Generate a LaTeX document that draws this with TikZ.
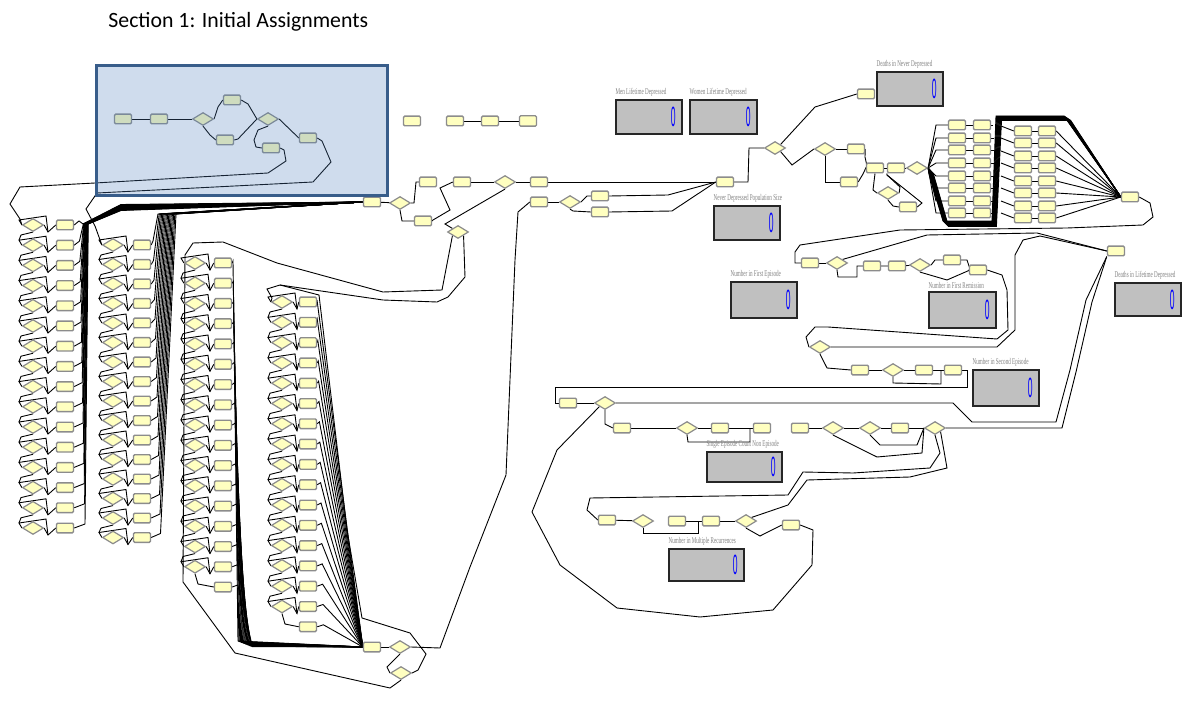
\documentclass[tikz,border=0pt]{standalone}
\usepackage{fontspec}
\setmainfont{Liberation Serif}
\newfontfamily\titlefont{Carlito}
\newfontfamily\digitfont{Liberation Sans}
\usetikzlibrary{shapes.geometric}
\pgfdeclarelayer{back}
\pgfdeclarelayer{bg}
\pgfdeclarelayer{fg}
\pgfsetlayers{back,bg,main,fg}
\definecolor{modfill}{RGB}{255,255,192}
\definecolor{modedge}{RGB}{140,140,140}
\definecolor{statfill}{RGB}{192,192,192}
\definecolor{overlay}{RGB}{79,129,189}
\definecolor{overedge}{RGB}{56,93,138}
\definecolor{lblgray}{RGB}{130,130,130}
\tikzset{
  mod/.style={draw=modedge, fill=modfill, line width=0.7pt, minimum width=8.5pt,
    minimum height=4.8pt, inner sep=0pt, rounded corners=0.6pt},
  dec/.style={diamond, draw=modedge, fill=modfill, line width=0.6pt,
    minimum width=10.5pt, minimum height=6.5pt, inner sep=0pt},
  wire/.style={line width=0.45pt, black},
  stat/.style={draw=black!85, fill=statfill, line width=0.8pt, inner sep=0pt},
  statlbl/.style={font=\fontsize{4.4}{5}\selectfont, text=lblgray, inner sep=0pt, anchor=south west},
  cnt/.style={text=blue, font=\digitfont\fontsize{4.5}{5}\selectfont, inner sep=0pt}
}
% counter panel: name, x, y, width, height, caption
\newcommand\statpanel[6]{%
  \node[stat, minimum width=#4, minimum height=#5] (#1) at (#2,#3) {};
  \node[cnt, anchor=east] (#1v) at ([xshift=-3.4pt]#1.east) {\scalebox{0.95}[3.1]{0}};
  \node[statlbl] (#1t) at ([yshift=1.2pt]#1.north west) {\scalebox{0.58}[1]{#6}};
}
\begin{document}
\begin{tikzpicture}[x=0.5pt,y=-0.5pt]
\useasboundingbox (0,0) rectangle (1189,711);
\begin{pgfonlayer}{back}
  \fill[white] (0,0) rectangle (1189,711);
\end{pgfonlayer}

\node[font=\titlefont\fontsize{10.9}{13}\selectfont, anchor=base west, inner sep=0pt]
  (title) at (108,28) {Section 1: Initial Assignments};

% ---------- initial assignment block ----------
\node[mod] (cr) at (123,119) {};
\node[mod] (a1) at (159,119) {};
\node[dec] (ia) at (203,119) {};
\node[mod] (a2) at (232,100) {};
\node[mod] (a3) at (225,140) {};
\node[dec] (ib) at (268,119) {};
\node[mod] (a4) at (271,148) {};
\node[mod] (a5) at (308,138) {};

% ---------- four columns of attribute checks ----------
\foreach \i in {0,...,15}{
  \pgfmathsetmacro\yy{225+20.2*\i}
  \node[dec] (c1d\i) at (33,\yy) {};
  \node[mod] (c1b\i) at (65,\yy) {};
  \pgfmathsetmacro\yy{245+19.5*\i}
  \node[dec] (c2d\i) at (113,\yy) {};
  \node[mod] (c2b\i) at (142,\yy) {};
}
\foreach \i in {0,...,16}{
  \pgfmathsetmacro\yy{263+20.25*\i}
  \ifnum\i<16 \node[dec] (c3d\i) at (195,\yy) {}; \fi
  \node[mod] (c3b\i) at (223,\yy) {};
  \pgfmathsetmacro\yy{302+20.3*\i}
  \ifnum\i<16 \node[dec] (c4d\i) at (282,\yy) {}; \fi
  \node[mod] (c4b\i) at (308,\yy) {};
}

% ---------- collectors and routing ----------
\node[mod] (n0) at (372,202) {};
\node[dec] (d3) at (400,203) {};
\node[mod] (m3) at (428,182) {};
\node[mod] (m4) at (423,221) {};
\node[mod] (m5) at (462,182) {};
\node[dec] (d4) at (505,182) {};
\node[mod] (m6) at (539,182) {};
\node[dec] (dm) at (458,232) {};
\node[mod] (m7) at (539,202) {};
\node[dec] (d5) at (570,202) {};
\node[mod] (m8) at (600,196) {};
\node[mod] (m9) at (600,212) {};
\node[mod] (n2) at (725,182) {};
\node[mod] (n1) at (372,647) {};
\node[dec] (q1) at (400,647) {};
\node[dec] (q2) at (401,673) {};

\node[mod] (t1) at (412,121) {};
\node[mod] (t2) at (455,121) {};
\node[mod] (t3) at (490,121) {};
\node[mod, minimum height=5.2pt] (t4) at (528,121) {};

% ---------- upper right ----------
\node[dec] (d6) at (775,148) {};
\node[mod] (m10) at (866,94) {};
\node[dec] (d7) at (825,149) {};
\node[mod] (m11) at (856,149) {};
\node[mod] (m12) at (849,182) {};
\node[mod] (m13) at (875,168) {};
\node[mod] (m14) at (896,168) {};
\node[dec] (d8) at (917,168) {};
\node[dec] (d9) at (888,193) {};
\node[mod] (m15) at (908,207) {};
\foreach \k/\y in {0/125,1/138,2/150,3/163,4/176,5/188,6/201,7/213}{
  \node[mod] (g1l\k) at (957,\y) {};
  \node[mod] (g1r\k) at (982,\y) {};
}
\foreach \k/\y in {0/131,1/143,2/156,3/168,4/181,5/193,6/206,7/218}{
  \node[mod] (g2l\k) at (1023,\y) {};
  \node[mod] (g2r\k) at (1047,\y) {};
}
\node[mod] (n3) at (1130,197) {};

% ---------- middle right ----------
\node[mod] (m20) at (810,263) {};
\node[dec] (d10) at (837,263) {};
\node[mod] (m21) at (872,266) {};
\node[mod] (m22) at (897,266) {};
\node[dec] (d11) at (920,265) {};
\node[mod] (m23) at (952,260) {};
\node[mod] (m24b) at (978,270) {};
\node[mod] (m24) at (1116,251) {};
\node[dec] (d12) at (820,347) {};
\node[mod] (m25) at (860,370) {};
\node[dec] (d13) at (893,370) {};
\node[mod] (m26) at (924,370) {};
\node[mod] (m27) at (953,370) {};

% ---------- lower right ----------
\node[mod] (m28) at (568,403) {};
\node[dec] (d14) at (605,403) {};
\node[mod] (m29) at (622,428) {};
\node[dec] (d15) at (687,428) {};
\node[mod] (m30) at (720,428) {};
\node[mod] (m31) at (762,428) {};
\node[mod] (m32) at (800,428) {};
\node[dec] (d16) at (833,428) {};
\node[dec] (d17) at (870,428) {};
\node[mod] (m33) at (900,428) {};
\node[dec] (d18) at (935,428) {};
\node[mod] (m34) at (607,520) {};
\node[dec] (d20) at (643,521) {};
\node[mod] (m35) at (677,521) {};
\node[mod] (m36) at (711,521) {};
\node[dec] (d19) at (746,521) {};
\node[mod] (m37) at (791,525) {};

% ---------- counters ----------
\statpanel{s1}{649}{117}{33pt}{17pt}{Men Lifetime Depressed}
\statpanel{s2}{723.5}{117}{33.5pt}{17pt}{Women Lifetime Depressed}
\statpanel{s3}{747}{223}{33pt}{17pt}{Never Depressed Population Size}
\statpanel{s4}{910}{89}{33pt}{17pt}{Deaths in Never Depressed}
\statpanel{s5}{764}{300}{33pt}{18pt}{Number in First Episode}
\statpanel{s6}{962.5}{310}{33.5pt}{18pt}{Number in First Remission}
\statpanel{s7}{1148}{299.5}{33pt}{16.5pt}{Deaths in Lifetime Depressed}
\statpanel{s8}{1006}{388}{33pt}{18pt}{Number in Second Episode}
\statpanel{s9}{744.5}{467}{37.5pt}{15pt}{Single Episode Count Non Episode}
\statpanel{s10}{706.5}{565}{37.5pt}{16pt}{Number in Multiple Recurrences}

% ================= connectors =================
\begin{pgfonlayer}{bg}
  % initial block
  \draw[wire] (cr) -- (a1) -- (ia);
  \draw[wire] (ia.east) -- (218,107) -- (a2.west);
  \draw[wire] (ia.south) -- (210,135) -- (a3.west);
  \draw[wire] (a2.east) -- (248,104) -- (ib.west);
  \draw[wire] (a3.east) -- (238,139) -- (ib.west);
  \draw[wire] (ib.south) -- (258,130) -- (254,140) -- (256,147) -- (a4.west);
  \draw[wire] (ib.east) -- (a5.west);
  \draw[wire] (a4.east) -- (284,150) -- (286,161) -- (268,173) -- (95,183) -- (20,187)
    -- (10,204) -- (20,219) -- (c1d0.west);
  \draw[wire] (a5.east) -- (322,141) -- (331,162) -- (313,182) -- (97,193) -- (86,209)
    -- (95,226) -- (c2d0.west);

  % column 1
  \foreach \i in {0,...,15}{
    \pgfmathsetmacro\yy{225+20.2*\i}
    \draw[wire] (c1d\i.east) -- (48,\yy+7) -- (c1b\i.west);
    \draw[wire] (c1d\i.west) -- (19,\yy-5) -- (46,\yy-9) -- (48,\yy+7);
    \ifnum\i<15 \draw[wire] (c1d\i.south) -- (21,\yy+10) -- (19,\yy+15.2); \fi
    \draw[wire] (c1b\i.east) -- ({79+0.4*\i},\yy-4) -- ({83+0.35*\i},224)
      -- (121,{204.5+0.4*\i}) -- (n0.west);
  }
  % column 2
  \foreach \i in {0,...,15}{
    \pgfmathsetmacro\yy{245+19.5*\i}
    \draw[wire] (c2d\i.east) -- (128,\yy+7) -- (c2b\i.west);
    \draw[wire] (c2d\i.west) -- (99,\yy-5) -- (126,\yy-9) -- (128,\yy+7);
    \ifnum\i<15 \draw[wire] (c2d\i.south) -- (101,\yy+10) -- (99,\yy+14.5); \fi
    \draw[wire] (c2b\i.east) -- ({153+0.5*\i},\yy-4) -- ({158+1.2*\i},214) -- (n0.west);
  }
  % column 3
  \foreach \i in {0,...,16}{
    \pgfmathsetmacro\yy{263+20.25*\i}
    \ifnum\i<16
      \draw[wire] (c3d\i.east) -- (210,\yy+7) -- (c3b\i.west);
      \draw[wire] (c3d\i.west) -- (181,\yy-5) -- (208,\yy-9) -- (210,\yy+7);
      \ifnum\i<15 \draw[wire] (c3d\i.south) -- (183,\yy+10) -- (181,\yy+15.25); \fi
    \fi
    \draw[wire] (c3b\i.east) -- ({233+0.3*\i},\yy-2) -- ({238+0.9*\i},{641+0.35*\i}) -- (n1.west);
  }
  \draw[wire] (c3d15.south) -- (198,584) -- (c3b16.west);
  % column 4
  \foreach \i in {0,...,16}{
    \pgfmathsetmacro\yy{302+20.3*\i}
    \ifnum\i<16
      \draw[wire] (c4d\i.east) -- (297,\yy+7) -- (c4b\i.west);
      \draw[wire] (c4d\i.west) -- (268,\yy-5) -- (295,\yy-9) -- (297,\yy+7);
      \ifnum\i<15 \draw[wire] (c4d\i.south) -- (270,\yy+10) -- (268,\yy+15.3); \fi
    \fi
    \draw[wire] (c4b\i.east) -- ({317+0.4*\i},\yy-2) -- (n1.west);
  }
  \draw[wire] (c4d15.south) -- (285,624) -- (c4b16.west);

  % loops round the columns
  \draw[wire] (dm.south west) -- (442,290) -- (383,292) -- (277,263) -- (223,242) -- (193,243)
    -- (185,255) -- (183,582) -- (235,653) -- (390,688) -- (q2.south);
  \draw[wire] (dm.south east) -- (465,277) -- (448,297) -- (437,302) -- (383,300) -- (280,285)
    -- (267,289) -- (272,298) -- (c4d0.west);
  \draw[wire] (q2.east) -- (418,670) -- (426,654) -- (410,633) -- (362,618) -- (347,530)
    -- (319,295) -- (280,285);
  \draw[wire] (n1) -- (q1);
  \draw[wire] (q1.south) -- (387,667) -- (q2.west);
  \draw[wire] (q1.east) -- (440,648) -- (470,567) -- (506,475) -- (515,260) -- (518,212) -- (m7.west);

  % top routing
  \draw[wire] (n0) -- (d3);
  \draw[wire] (d3.east) -- (414,203) -- (416,182) -- (m3.west);
  \draw[wire] (d3.south) -- (402,221) -- (m4.west);
  \draw[wire] (m4.east) -- (433,220) -- (450,210) -- (440,188) -- (m5.west);
  \draw[wire] (m5) -- (d4) -- (m6) -- (n2);
  \draw[wire] (d4.south) -- (445,224) -- (dm.north west);
  \draw[wire] (m7) -- (d5);
  \draw[wire] (d5.east) -- (587,196) -- (m8.west);
  \draw[wire] (d5.south) -- (573,211) -- (m9.west);
  \draw[wire] (m8.east) -- (668,195) -- (n2.west);
  \draw[wire] (m9.east) -- (672,211) -- (n2.west);
  \draw[wire] (t2) -- (t3) -- (t4);

  % upper right
  \draw[wire] (n2.east) -- (748,182) -- (749,148) -- (d6.west);
  \draw[wire] (d6.north east) -- (815,107) -- (m10.west);
  \draw[wire] (d6.south east) -- (792,165) -- (d7.west);
  \draw[wire] (d7) -- (m11);
  \draw[wire] (d7.south) -- (825,182) -- (m12.west);
  \draw[wire] (m11.east) -- (865,157) -- (867,166) -- (m13.west);
  \draw[wire] (m12.east) -- (863,174) -- (m13.west);
  \draw[wire] (m13) -- (m14) -- (d8);
  \draw[wire] (m13.south) -- (873,190) -- (d9.west);
  \draw[wire] (d9.east) -- (900,187) -- (887,175) -- (m14.south west);
  \draw[wire] (d9.south) -- (893,206) -- (m15.west);
  \draw[wire] (m15.east) -- (922,203) -- (887,175);
  \foreach \k/\y in {0/125,1/138,2/150,3/163,4/176,5/188,6/201,7/213}{
    \draw[wire] (d8.east) -- (936,\y) -- (g1l\k.west);
    \draw[wire] (g1l\k) -- (g1r\k);
    \draw[wire] (g1r\k.east) -- ({993+0.5*\k},\y);
  }
  \foreach \j in {0,...,11}{
    \draw[wire] (d8.east) -- ({929+0.4*\j},174) -- ({943+0.5*\j},{221+0.5*\j})
      -- ({992+0.4*\j},{221+0.5*\j}) -- ({996+0.5*\j},{116+0.4*\j})
      -- ({1064+0.6*\j},{116+0.4*\j}) -- (n3.west);
  }
  \foreach \k/\y in {0/131,1/143,2/156,3/168,4/181,5/193,6/206,7/218}{
    \draw[wire] (1001,\y-5) -- (g2l\k.west);
    \draw[wire] (g2l\k) -- (g2r\k);
    \draw[wire] (g2r\k.east) -- (n3.west);
  }
  \draw[wire] (n3.east) -- (1150,203) -- (1153,217) -- (1143,225) -- (1067,228) -- (900,230)
    -- (800,245) -- (795,252) -- (795,263) -- (m20.west);

  % middle right
  \draw[wire] (m20) -- (d10);
  \draw[wire] (d10.south) -- (838,277) -- (857,277) -- (857,266) -- (m21.west);
  \draw[wire] (d10.north east) -- (927,235) -- (1037,233) -- (m24.west);
  \draw[wire] (m21) -- (m22) -- (d11);
  \draw[wire] (d11.east) -- (935,260) -- (m23.west);
  \draw[wire] (m23.east) -- (967,260) -- (970,269) -- (m24b.west);
  \draw[wire] (d11.south) -- (947,280) -- (970,270);
  \draw[wire] (m24b.east) -- (1002,275) -- (1007,290) -- (1008,330) -- (997,339) -- (828,327)
    -- (815,327) -- (806,337) -- (d12.west);
  \draw[wire] (d12.east) -- (997,347) -- (1015,330) -- (1015,255) -- (1023,240) -- (1040,236)
    -- (m24.west);
  \draw[wire] (d12.south) -- (827,368) -- (m25.west);
  \draw[wire] (m25) -- (d13) -- (m26) -- (m27);
  \draw[wire] (d13.south) -- (893,383) -- (941,384) -- (941,370);
  \draw[wire] (m27.east) -- (967,370) -- (967,387) -- (555,387) -- (555,403) -- (m28.west);

  % lower right
  \draw[wire] (m28) -- (d14);
  \draw[wire] (d14.east) -- (953,403) -- (972,422) -- (1056,422) -- (1070,370) -- (1086,300)
    -- (m24.south west);
  \draw[wire] (d14.south) -- (605,424) -- (m29.west);
  \draw[wire] (m29) -- (d15) -- (m30) -- (m31);
  \draw[wire] (d15.south) -- (688,442) -- (750,442) -- (750,428);
  \draw[wire] (m32) -- (d16) -- (d17) -- (m33) -- (d18);
  \draw[wire] (d18.east) -- (1062,428) -- (1076,372) -- (1092,302) -- (m24.south west);
  \draw[wire] (d16.south) -- (877,457) -- (922,453) -- (d18.west);
  \draw[wire] (d17.south) -- (880,445) -- (917,445) -- (d18.west);
  \draw[wire] (d18.south) -- (940,453) -- (930,468) -- (853,473) -- (803,472) -- (788,495)
    -- (590,498) -- (587,510) -- (m34.west);
  \draw[wire] (d18.south east) -- (947,468) -- (910,477) -- (807,480) -- (788,505) -- (d19.north east);
  \draw[wire] (m34) -- (d20);
  \draw[wire] (d20.south) -- (643,533) -- (698,533) -- (698,521);
  \draw[wire] (m35) -- (m36) -- (d19);
  \draw[wire] (d19.south) -- (760,536) -- (m37.west);
  \draw[wire] (m37.east) -- (813,530) -- (812,565) -- (773,610) -- (700,617) -- (617,608)
    -- (560,565) -- (532,512) -- (557,450) -- (d14.south west);
\end{pgfonlayer}

% highlighted section
\begin{pgfonlayer}{fg}
  \draw[overedge, line width=1.5pt, fill=overlay, fill opacity=0.27] (96,66) rectangle (387,196);
\end{pgfonlayer}
\end{tikzpicture}
\end{document}
